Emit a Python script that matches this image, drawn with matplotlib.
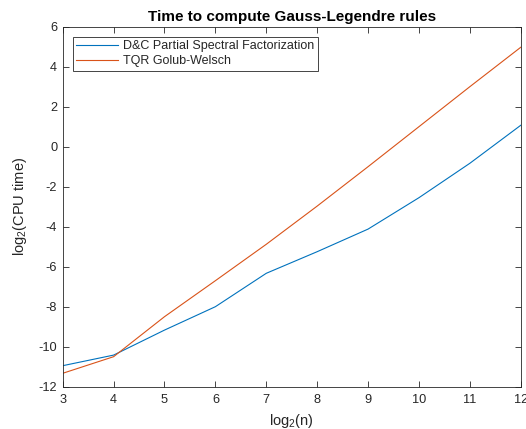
import matplotlib
matplotlib.use("Agg")
import matplotlib.pyplot as plt

# log2(n) values and log2(CPU time) for each method
log_n = [3, 4, 5, 6, 7, 8, 9, 10, 11, 12]
dc_time = [-10.95, -10.42, -9.17, -8.0, -6.33, -5.25, -4.12, -2.55, -0.83, 1.07]
tqr_time = [-11.33, -10.5, -8.5, -6.7, -4.88, -2.97, -1.0, 1.0, 3.0, 4.97]

plt.rcParams["font.family"] = ["Liberation Sans", "DejaVu Sans"]
plt.rcParams["mathtext.fontset"] = "custom"
plt.rcParams["mathtext.rm"] = "Liberation Sans"
plt.rcParams["mathtext.it"] = "Liberation Sans"
plt.rcParams["axes.unicode_minus"] = False

fig = plt.figure(figsize=(5.26, 4.29), dpi=100)
ax = fig.add_axes([0.1192, 0.0986, 0.8708, 0.8392])

ax.plot(log_n, dc_time, color="#0072BD", lw=0.8,
        label="D&C Partial Spectral Factorization")
ax.plot(log_n, tqr_time, color="#D95319", lw=0.8,
        label="TQR Golub-Welsch")

ax.set_xlim(3, 12)
ax.set_ylim(-12, 6)
ax.set_xticks(range(3, 13))
ax.set_yticks(range(-12, 7, 2))

axis_color = "#262626"
for s in ax.spines.values():
    s.set_color(axis_color)
    s.set_linewidth(0.6)
ax.tick_params(direction="in", top=True, right=True, length=4, width=0.6,
               colors=axis_color, labelsize=9.2, labelcolor="#262626")
ax.tick_params(axis="x", pad=5)
ax.tick_params(axis="y", pad=4)

ax.set_title("Time to compute Gauss-Legendre rules", fontsize=11,
             fontweight="bold", pad=4)
ax.set_xlabel("log$_2$(n)", fontsize=10.5, labelpad=4.5, color="#262626")
ax.set_ylabel("log$_2$(CPU time)", fontsize=10.5, labelpad=6.5, color="#262626")

leg = ax.legend(loc="upper left", fontsize=9, fancybox=False,
                framealpha=1, edgecolor="#262626", borderpad=0.3,
                handlelength=3.3, handletextpad=0.4, labelspacing=0.2,
                borderaxespad=0.8)
leg.get_frame().set_linewidth(0.6)
for t in leg.get_texts():
    t.set_color("#262626")

fig.savefig("out.png", dpi=100)
